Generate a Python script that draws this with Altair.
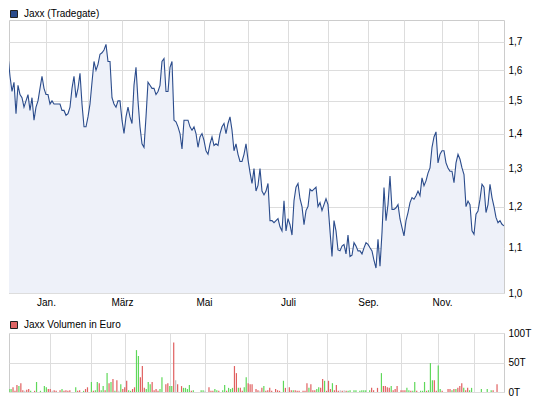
import altair as alt
import pandas as pd

# ---------------- data ----------------
price_title = "Jaxx (Tradegate)"
volume_title = "Jaxx Volumen in Euro"

price = [
    1.53, 1.69, 1.65, 1.58, 1.53, 1.56, 1.46, 1.55, 1.52, 1.51,
    1.48, 1.50, 1.52, 1.47, 1.51, 1.44, 1.48, 1.50, 1.54, 1.58,
    1.54, 1.52, 1.52, 1.49, 1.50, 1.49, 1.49, 1.49, 1.49, 1.47,
    1.47, 1.455, 1.46, 1.48, 1.54, 1.58, 1.51, 1.54, 1.59, 1.49,
    1.42, 1.42, 1.45, 1.49, 1.56, 1.63, 1.60, 1.62, 1.655, 1.66,
    1.67, 1.69, 1.63, 1.63, 1.51, 1.49, 1.48, 1.50, 1.50, 1.44,
    1.40, 1.45, 1.48, 1.45, 1.43, 1.55, 1.61, 1.50, 1.42, 1.37,
    1.36, 1.45, 1.56, 1.55, 1.54, 1.54, 1.52, 1.53, 1.55, 1.63,
    1.64, 1.53, 1.53, 1.61,
    1.63, 1.44, 1.435, 1.42, 1.40, 1.355, 1.44, 1.44, 1.44, 1.42,
    1.41, 1.42, 1.40, 1.36, 1.39, 1.40, 1.38, 1.35, 1.34, 1.37,
    1.39, 1.365, 1.37, 1.365, 1.40, 1.42, 1.43, 1.40, 1.43, 1.45,
    1.41, 1.35, 1.37, 1.34, 1.32, 1.32, 1.34, 1.37, 1.325, 1.29,
    1.26, 1.30, 1.24, 1.255, 1.30, 1.24, 1.23, 1.24, 1.26, 1.165,
    1.165, 1.16, 1.165, 1.17, 1.15, 1.14, 1.215, 1.14, 1.17, 1.155,
    1.13, 1.215, 1.25, 1.26, 1.22, 1.20, 1.155, 1.19, 1.20, 1.245,
    1.24, 1.245, 1.25, 1.20, 1.21, 1.19, 1.205, 1.22, 1.205, 1.14,
    1.08, 1.165, 1.14, 1.095,
    1.093, 1.104, 1.108, 1.086, 1.13, 1.08, 1.083, 1.112, 1.104, 1.093,
    1.093, 1.086, 1.10, 1.112, 1.108, 1.10, 1.093, 1.071, 1.054, 1.12,
    1.058, 1.136, 1.249, 1.165, 1.205, 1.28, 1.193, 1.193, 1.197, 1.205,
    1.169, 1.148, 1.128, 1.165, 1.185, 1.21, 1.223, 1.219, 1.228, 1.24,
    1.228, 1.275, 1.254, 1.267, 1.288, 1.302, 1.36, 1.39, 1.405, 1.316,
    1.34, 1.35, 1.35, 1.316, 1.302, 1.293, 1.293, 1.262, 1.316, 1.34,
    1.326, 1.302, 1.284, 1.20, 1.214, 1.205, 1.14, 1.132, 1.181, 1.189,
    1.219, 1.258, 1.25, 1.185, 1.205, 1.258, 1.223, 1.20, 1.173, 1.16,
    1.165, 1.156, 1.152,
]

# volume in thousands of euro (T)
volume = [
    5, 5, 8, 2, 12, 10, 15, 3, 2, 4,
    5, 2, 0, 2, 17, 0, 2, 0, 10, 8,
    5, 5, 2, 3, 2, 0, 3, 5, 2, 3,
    2, 3, 0, 0, 8, 2, 3, 0, 2, 5,
    8, 0, 17, 2, 3, 17, 15, 3, 10, 3,
    32, 15, 17, 22, 2, 20, 2, 13, 5, 8,
    19, 3, 2, 5, 8, 71, 61, 25, 44, 7,
    5, 17, 13, 17, 3, 5, 2, 5, 25, 0,
    13, 15, 10, 10, 84, 20, 13, 0, 10, 7,
    7, 5, 12, 2, 3, 0, 0, 0, 3, 3,
    2, 0, 8, 2, 2, 5, 3, 2, 0, 3,
    12, 2, 7, 5, 7, 44, 32, 7, 7, 2,
    8, 25, 15, 13, 13, 0, 5, 3, 2, 7,
    10, 2, 3, 7, 2, 0, 5, 3, 2, 0,
    19, 7, 0, 8, 3, 3, 3, 2, 2, 0,
    2, 2, 15, 7, 13, 3, 3, 5, 8, 7,
    22, 19, 2, 19, 5, 15, 3, 12, 2, 3,
    2, 3, 2, 2, 3, 0, 3, 3, 0, 2,
    3, 3, 3, 0, 3, 7, 3, 0, 7, 0,
    32, 10, 10, 8, 7, 10, 3, 5, 10, 0,
    3, 3, 3, 7, 3, 2, 2, 17, 2, 0,
    2, 2, 17, 2, 3, 49, 20, 20, 2, 45,
    5, 2, 0, 0, 5, 5, 3, 5, 5, 7,
    10, 15, 7, 3, 7, 3, 7, 0, 0, 0,
    0, 5, 0, 0, 5, 0, 3, 3, 0, 13, 0,
]

# u = price up (green), d = price down (red), f = unchanged (grey)
direction = (
    "u u d d d u d d f d "
    "d u f d u f u f u u "
    "d d f d d f d u d d "
    "d d f f u d d f u d "
    "d f u d u u d u u d "
    "u d u d u d f u d d "
    "d u u d d u u d d d "
    "u u u d d d d u u f "
    "d d u u d f d f d u "
    "u u u d u f f f u u "
    "f f d d d u u d f u "
    "u d u u u d d u d d "
    "u u d d d f d d f d "
    "u d d d d f d d d f "
    "u d f d d u d d d f "
    "d d d u d d d u u d "
    "d u d d d u d d d f "
    "d f d u u f u u f u "
    "u u u f u d d f d f "
    "u d d d d u d d d f "
    "d d d u u d u u d f "
    "u u u d u u u d d u "
    "u d f f d d u d u d "
    "d d u d d u u f f f "
    "f u f f u f u d f d f"
).split()

month_ticks = [21, 42, 59, 82, 100, 122, 142, 162, 182, 200, 219, 237]
month_labels = ["Jan.", "", "März", "", "Mai", "", "Juli", "", "Sep.", "", "Nov.", ""]
price_ticks = [1.0, 1.1, 1.2, 1.3, 1.4, 1.5, 1.6, 1.7]
volume_ticks = [0, 50, 100]

# ---------------- chart ----------------
n = len(price)
df = pd.DataFrame({
    "day": list(range(n)),
    "price": price,
    "vol": volume[:n],
    "dir": direction[:n],
    "price_series": [price_title] * n,
    "vol_series": [volume_title] * n,
})

FONT = "Liberation Sans"
LINE = "#2b4c8c"

month_expr = "".join(
    f"datum.value == {t} ? '{m}' : " for t, m in zip(month_ticks, month_labels)
) + "''"

x_scale = alt.Scale(domain=[2.5, 250], nice=False, zero=False)

x_price = alt.X(
    "day:Q", scale=x_scale,
    axis=alt.Axis(values=month_ticks, labelExpr=month_expr, grid=True, ticks=False,
                  tickSize=0, domain=False, title=None, labelPadding=4,
                  labelFlush=False, labelOverlap=False),
)
y_price = alt.Y(
    "price:Q",
    scale=alt.Scale(type="log", domain=[1.0, 1.779], nice=False, zero=False),
    axis=alt.Axis(orient="right", values=price_ticks,
                  labelExpr="replace(format(datum.value, '.1f'), '.', ',')",
                  ticks=False, tickSize=0, domain=False, title=None, labelPadding=4,
                  labelFlush=False, labelOverlap=False),
)

base = alt.Chart(df)

area = base.mark_area(color="#eef1f9", clip=True).encode(
    x=x_price, y=y_price, y2=alt.datum(1.0)
)
line = base.mark_line(color=LINE, strokeWidth=1.1, clip=True).encode(x=x_price, y=y_price)


def legend_props(y_off):
    return dict(
        title=None, orient="none", legendX=0, legendY=y_off,
        symbolType="square", symbolSize=49, symbolStrokeColor="#222222",
        symbolStrokeWidth=1, symbolOpacity=1, labelFontSize=10,
        labelFont=FONT, labelColor="#000000", labelOffset=5, padding=0,
    )


price_key = base.mark_square(size=0, opacity=1, stroke="#222222", strokeWidth=1, clip=True).encode(
    x=x_price, y=y_price,
    color=alt.Color("price_series:N", scale=alt.Scale(range=[LINE]),
                    legend=alt.Legend(**legend_props(-11))),
)

price_chart = alt.layer(area, line, price_key).properties(width=495, height=273)

x_vol = alt.X(
    "day:Q", scale=x_scale,
    axis=alt.Axis(values=month_ticks, labels=False, grid=True, ticks=False, tickSize=0,
                  domain=False, title=None),
)
y_vol = alt.Y(
    "vol:Q", scale=alt.Scale(domain=[0, 100], nice=False),
    axis=alt.Axis(orient="right", values=volume_ticks, labelExpr="datum.value + 'T'",
                  ticks=False, tickSize=0, domain=False, title=None, labelPadding=4,
                  labelFlush=False, labelOverlap=False),
)

bars = base.transform_filter("datum.vol > 0").mark_bar(width=1.2, clip=True).encode(
    x=x_vol, y=y_vol,
    color=alt.Color("dir:N", scale=alt.Scale(domain=["u", "d", "f"],
                                             range=["#5fd85a", "#e06060", "#c4c4c4"]),
                    legend=None),
)
vol_key = base.mark_square(size=0, opacity=1, stroke="#222222", strokeWidth=1, clip=True).encode(
    x=x_vol, y=y_vol,
    color=alt.Color("vol_series:N", scale=alt.Scale(range=["#e06666"]),
                    legend=alt.Legend(**legend_props(-13))),
)

vol_chart = alt.layer(bars, vol_key).resolve_scale(color="independent").properties(
    width=495, height=59
)

chart = alt.vconcat(price_chart, vol_chart, spacing=11).resolve_scale(
    color="independent"
).properties(
    padding={"left": 0, "top": 0, "right": 0, "bottom": 0},
    background="white",
).configure_view(
    stroke="#cccccc", strokeWidth=1
).configure_axis(
    gridColor="#dddddd", gridWidth=1, labelFont=FONT, labelFontSize=10,
    labelColor="#000000",
)

chart.save("out.html", embed_options={"renderer": "svg", "actions": False})
